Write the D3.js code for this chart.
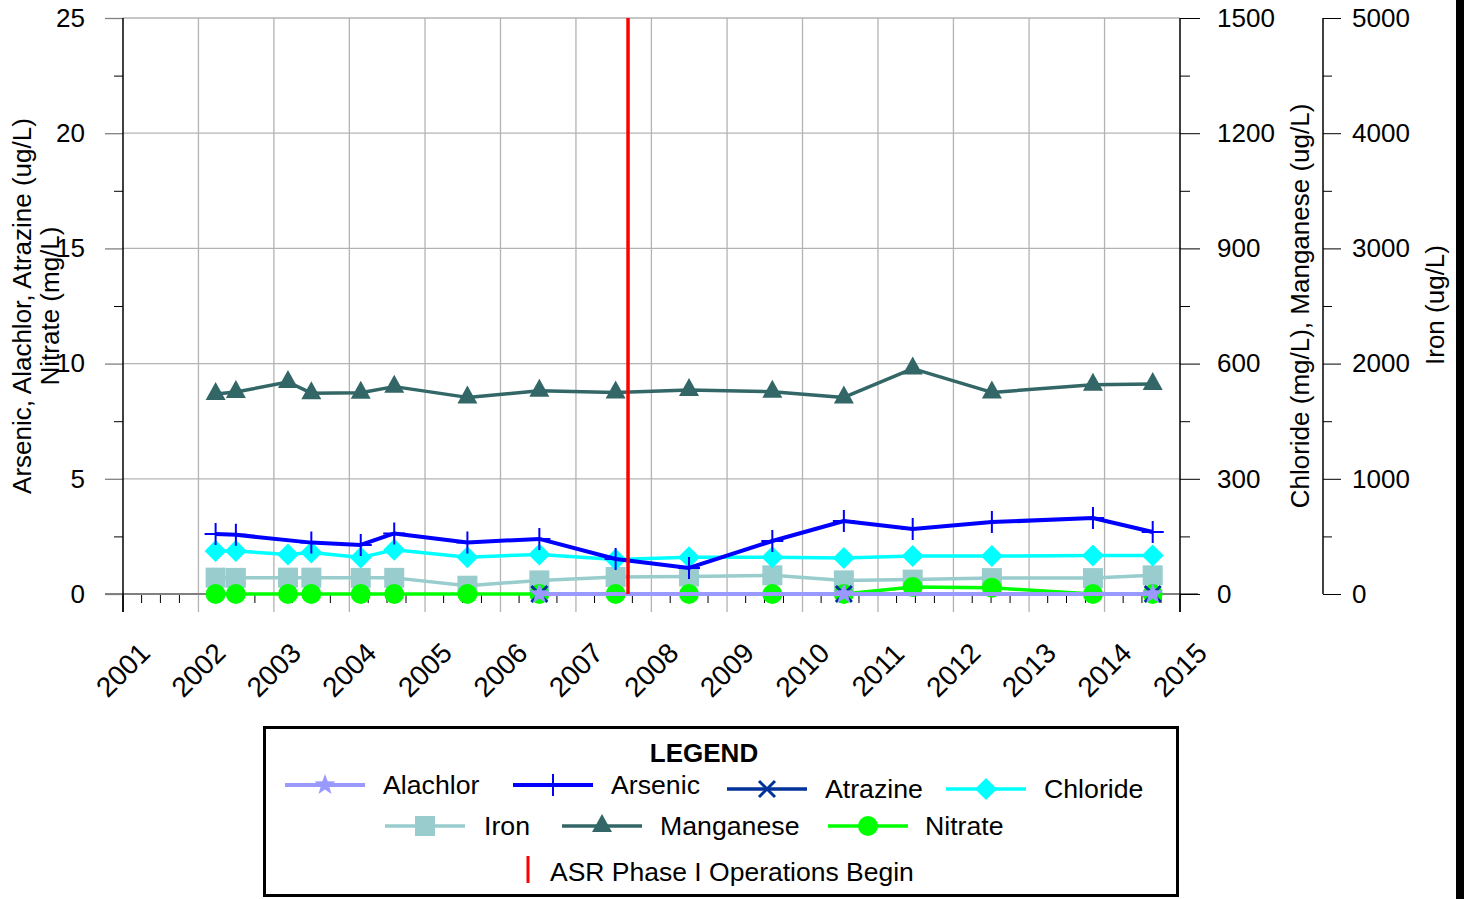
<!DOCTYPE html>
<html><head><meta charset="utf-8">
<script src="https://cdn.jsdelivr.net/npm/d3@7"></script>
<style>
html,body{margin:0;padding:0;background:#fff;}
svg{display:block;font-family:"Liberation Sans",Arial,sans-serif;}
</style></head><body>
<svg id="chart" width="1464" height="899"></svg>
<script>
// ---------------- DATA ----------------
const sampleDates = ["2002-03-25","2002-07-01","2003-03-10","2003-07-01","2004-02-25","2004-08-05",
  "2005-07-25","2006-07-08","2007-07-12","2008-07-01","2009-08-08","2010-07-20","2011-06-18",
  "2012-07-05","2013-11-06","2014-08-22"];
const manganese = [521,526,552,523,524,540,512,529,525,531,527,512,587,525,545,547];   // ug/L (right axis)
const chloride  = [112,112,103,108,95,115,96,103,90,96,96,94,99,99,100,100];             // mg/L (right axis)
const iron      = [142,140,142,142,140,140,72,118,148,152,162,118,125,138,138,162];      // ug/L (iron axis)
const nitrate   = [0,0,0,0,0,0,0,0,0,0,0,0,0.3,0.27,0,0];                               // mg/L (left axis)
const arsenicDates = ["2002-03-25","2002-07-01","2003-07-01","2004-02-25","2004-08-05","2005-07-25",
  "2006-07-08","2007-07-12","2008-07-01","2009-08-08","2010-07-20","2011-06-18","2012-07-05",
  "2013-11-06","2014-08-22"];
const arsenic = [2.6,2.57,2.23,2.13,2.63,2.24,2.39,1.52,1.13,2.3,3.17,2.82,3.12,3.3,2.69];  // ug/L
const pesticideDates = ["2006-07-08","2010-07-20","2014-08-22"];
const alachlor = [0,0,0];
const atrazine = [0,0,0];
const asrStart = "2007-09-10";
const yearTicks = [2001,2002,2003,2004,2005,2006,2007,2008,2009,2010,2011,2012,2013,2014,2015];
const leftTicks = [0,5,10,15,20,25];
const rightTicks = [0,300,600,900,1200,1500];
const ironTicks = [0,1000,2000,3000,4000,5000];

// ---------------- SETUP ----------------
const parse = d3.timeParse("%Y-%m-%d");
const svg = d3.select("#chart");
const L = 123, R = 1180, T = 18, B = 594, R2 = 1323;
const x = d3.scaleTime().domain([new Date(2001,0,1), new Date(2015,0,1)]).range([L, R]);
const yL = d3.scaleLinear().domain([0,25]).range([B,T]);
const yR = d3.scaleLinear().domain([0,1500]).range([B,T]);
const yFe = d3.scaleLinear().domain([0,5000]).range([B,T]);
const gridCol = "#b3b3b3", tickGray = "#808080";
const fmt = d3.format("d");

svg.append("rect").attr("width",1464).attr("height",899).attr("fill","#fff");

// horizontal grid
const g = svg.append("g");
g.selectAll("line.hg").data(leftTicks.filter(d=>d>0)).join("line")
  .attr("x1",L).attr("x2",R).attr("y1",d=>yL(d)).attr("y2",d=>yL(d))
  .attr("stroke",gridCol).attr("stroke-width",1.3);
// vertical grid (years) incl. extension below axis as major tick
g.selectAll("line.vg").data(yearTicks).join("line")
  .attr("x1",d=>x(new Date(d,0,1))).attr("x2",d=>x(new Date(d,0,1)))
  .attr("y1",d=> (d===2001||d===2015)? B : T).attr("y2",612)
  .attr("stroke",d=> (d===2001||d===2015)? "#000": gridCol).attr("stroke-width",1.3);
// quarterly minor ticks
const quarters = [];
yearTicks.slice(0,-1).forEach(yv=>{[3,6,9].forEach(m=>quarters.push(new Date(yv,m,1)));});
g.selectAll("line.qt").data(quarters).join("line")
  .attr("x1",d=>x(d)).attr("x2",d=>x(d)).attr("y1",B).attr("y2",603)
  .attr("stroke","#000").attr("stroke-width",1);
// x axis baseline
svg.append("line").attr("x1",105).attr("x2",1198).attr("y1",B).attr("y2",B)
  .attr("stroke",tickGray).attr("stroke-width",2);

// Left axis
const axL = svg.append("g").attr("transform",`translate(${L},0)`)
  .call(d3.axisLeft(yL).tickValues(leftTicks).tickSize(18).tickPadding(20).tickFormat(fmt));
axL.select(".domain").remove();
axL.selectAll(".tick line").attr("stroke",tickGray).attr("stroke-width",1.3);
axL.selectAll(".tick text").attr("font-size",26).attr("fill","#000").attr("font-family","Liberation Sans, Arial, sans-serif");
svg.append("g").attr("transform",`translate(${L},0)`)
  .call(d3.axisLeft(yL).tickValues([2.5,7.5,12.5,17.5,22.5]).tickSize(9).tickFormat(""))
  .call(s=>s.select(".domain").remove()).selectAll("line").attr("stroke","#000");
svg.append("line").attr("x1",L).attr("x2",L).attr("y1",T).attr("y2",612).attr("stroke","#000").attr("stroke-width",1.5);

// Right axis 1
const axR = svg.append("g").attr("transform",`translate(${R},0)`)
  .call(d3.axisRight(yR).tickValues(rightTicks).tickSize(20).tickPadding(17).tickFormat(fmt));
axR.select(".domain").remove();
axR.selectAll(".tick line").attr("stroke","#000").attr("stroke-width",1);
axR.selectAll(".tick text").attr("font-size",26).attr("fill","#000").attr("font-family","Liberation Sans, Arial, sans-serif");
svg.append("g").attr("transform",`translate(${R},0)`)
  .call(d3.axisRight(yR).tickValues([150,450,750,1050,1350]).tickSize(10).tickFormat(""))
  .call(s=>s.select(".domain").remove()).selectAll("line").attr("stroke","#000");
svg.append("line").attr("x1",R).attr("x2",R).attr("y1",T).attr("y2",612).attr("stroke","#000").attr("stroke-width",1.5);

// Right axis 2 (Iron)
const axFe = svg.append("g").attr("transform",`translate(${R2},0)`)
  .call(d3.axisRight(yFe).tickValues(ironTicks).tickSize(18).tickPadding(11).tickFormat(fmt));
axFe.select(".domain").remove();
axFe.selectAll(".tick line").attr("stroke","#000").attr("stroke-width",1);
axFe.selectAll(".tick text").attr("font-size",26).attr("fill","#000").attr("font-family","Liberation Sans, Arial, sans-serif");
svg.append("g").attr("transform",`translate(${R2},0)`)
  .call(d3.axisRight(yFe).tickValues([500,1500,2500,3500,4500]).tickSize(9).tickFormat(""))
  .call(s=>s.select(".domain").remove()).selectAll("line").attr("stroke","#000");
svg.append("line").attr("x1",R2).attr("x2",R2).attr("y1",T).attr("y2",B).attr("stroke","#000").attr("stroke-width",1.5);

// Year labels
svg.append("g").selectAll("text").data(yearTicks).join("text")
  .attr("transform",d=>`translate(${x(new Date(d,0,1))},670) rotate(-45)`)
  .attr("text-anchor","middle").attr("dominant-baseline","central")
  .attr("font-size",28).text(d=>d);

// Axis titles
function vtitle(tx,ty,txt){
  svg.append("text").attr("transform",`translate(${tx},${ty}) rotate(-90)`)
    .attr("text-anchor","middle").attr("dominant-baseline","central").attr("font-size",26).text(txt);
}
vtitle(22,306,"Arsenic, Alachlor, Atrazine (ug/L)");
vtitle(50,306,"Nitrate (mg/L)");
vtitle(1300,306,"Chloride (mg/L), Manganese (ug/L)");
vtitle(1435,305,"Iron (ug/L)");

// ---------------- MARKERS ----------------
function starPath(ro,ri){
  let p="";
  for(let i=0;i<10;i++){
    const r = i%2===0?ro:ri, a = -Math.PI/2 + i*Math.PI/5;
    p += (i===0?"M":"L") + (r*Math.cos(a)).toFixed(2)+","+(r*Math.sin(a)).toFixed(2);
  }
  return p+"Z";
}
const markers = {
  circle:(s,c)=>s.append("circle").attr("r",10).attr("fill",c),
  square:(s,c)=>s.append("rect").attr("x",-10).attr("y",-10).attr("width",20).attr("height",20).attr("fill",c),
  diamond:(s,c)=>s.append("path").attr("d","M0,-11L11,0L0,11L-11,0Z").attr("fill",c),
  triangle:(s,c)=>s.append("path").attr("d","M0,-12L10,6L-10,6Z").attr("fill",c),
  plus:(s,c)=>s.append("path").attr("d","M0,-11V11M-11,0H11").attr("stroke",c).attr("stroke-width",2).attr("fill","none"),
  vbar:(s,c)=>s.append("path").attr("d","M0,-11V11").attr("stroke",c).attr("stroke-width",2).attr("fill","none"),
  xmark:(s,c)=>s.append("path").attr("d","M-8,-8L8,8M8,-8L-8,8").attr("stroke",c).attr("stroke-width",3).attr("fill","none"),
  star:(s,c)=>s.append("path").attr("d",starPath(11,4.5)).attr("fill",c)
};

function drawSeries(dates, vals, yScale, color, lw, marker){
  const data = dates.map((d,i)=>({date:parse(d), v:vals[i]}));
  const gs = svg.append("g");
  gs.append("path").datum(data)
    .attr("d", d3.line().x(d=>x(d.date)).y(d=>yScale(d.v)))
    .attr("fill","none").attr("stroke",color).attr("stroke-width",lw).attr("stroke-linejoin","round");
  data.forEach(d=>{
    const m = gs.append("g").attr("transform",`translate(${x(d.date)},${yScale(d.v)})`);
    markers[marker](m,color);
  });
}

const cMn="#336666", cFe="#99CCCC", cCl="#00FFFF", cAs="#0000FF", cNO="#00FF00", cAt="#003399", cAl="#9999FF";
drawSeries(sampleDates, manganese, yR, cMn, 3.5, "triangle");
drawSeries(sampleDates, iron, yFe, cFe, 3.5, "square");
drawSeries(sampleDates, chloride, yR, cCl, 3.5, "diamond");
drawSeries(arsenicDates, arsenic, yL, cAs, 4, "plus");
drawSeries(sampleDates, nitrate, yL, cNO, 3.5, "circle");
drawSeries(pesticideDates, atrazine, yL, cAt, 3.5, "xmark");
drawSeries(pesticideDates, alachlor, yL, cAl, 4, "star");

// ASR line
svg.append("line").attr("x1",x(parse(asrStart))).attr("x2",x(parse(asrStart)))
  .attr("y1",T).attr("y2",B).attr("stroke","#FF0000").attr("stroke-width",3.5);

// ---------------- LEGEND ----------------
const lg = svg.append("g");
lg.append("rect").attr("x",264.5).attr("y",727.5).attr("width",913).attr("height",168)
  .attr("fill","#fff").attr("stroke","#000").attr("stroke-width",3);
lg.append("text").attr("x",704).attr("y",753).attr("text-anchor","middle").attr("dominant-baseline","central")
  .attr("font-size",26).attr("font-weight","bold").text("LEGEND");
const legendItems = [
  {name:"Alachlor", color:cAl, m:"star", x0:285, y:785, tx:383, lw:4},
  {name:"Arsenic", color:cAs, m:"vbar", x0:513, y:785, tx:611, lw:4},
  {name:"Atrazine", color:cAt, m:"xmark", x0:727, y:789, tx:825, lw:3.5},
  {name:"Chloride", color:cCl, m:"diamond", x0:946, y:789, tx:1044, lw:3.5},
  {name:"Iron", color:cFe, m:"square", x0:385, y:826, tx:484, lw:3.5},
  {name:"Manganese", color:cMn, m:"triangle", x0:562, y:826, tx:660, lw:3.5},
  {name:"Nitrate", color:cNO, m:"circle", x0:828, y:826, tx:925, lw:3.5}
];
legendItems.forEach(it=>{
  lg.append("line").attr("x1",it.x0).attr("x2",it.x0+80).attr("y1",it.y).attr("y2",it.y)
    .attr("stroke",it.color).attr("stroke-width",it.lw);
  const m = lg.append("g").attr("transform",`translate(${it.x0+40},${it.y})`);
  markers[it.m](m,it.color);
  lg.append("text").attr("x",it.tx).attr("y",it.y).attr("dominant-baseline","central")
    .attr("font-size",26.7).text(it.name);
});
lg.append("line").attr("x1",528).attr("x2",528).attr("y1",856).attr("y2",883)
  .attr("stroke","#FF0000").attr("stroke-width",3);
lg.append("text").attr("x",550).attr("y",872).attr("dominant-baseline","central")
  .attr("font-size",26.5).text("ASR Phase I Operations Begin");

// right border bar
svg.append("rect").attr("x",1456).attr("y",0).attr("width",8).attr("height",899).attr("fill","#000");
</script>
</body></html>
